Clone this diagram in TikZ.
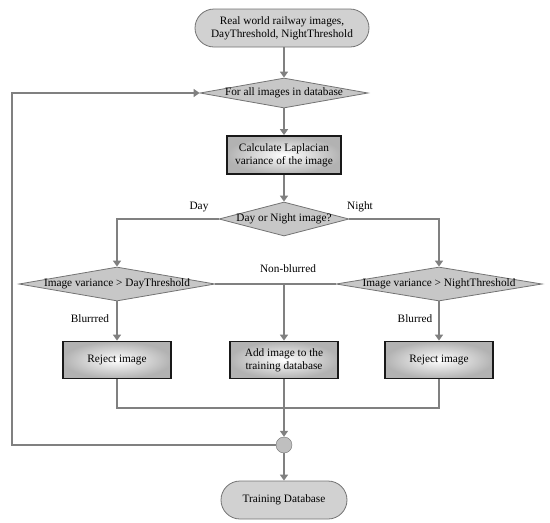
\documentclass[tikz,border=0pt]{standalone}
\usepackage{fontspec}
\setmainfont{Liberation Serif}
\usetikzlibrary{arrows.meta,positioning,shapes.geometric,shapes.misc}

\newcommand{\dtext}[1]{\makebox[0pt]{#1}}

\begin{document}
\begin{tikzpicture}[x=1pt,y=-1pt,font=\fontsize{11.3}{13}\selectfont,
  term/.style={rounded rectangle,draw=black!55,line width=.8pt,fill=black!18,align=center,minimum height=36pt,inner sep=0pt},
  cond/.style={diamond,draw=black!55,line width=.8pt,fill=black!22,inner sep=0pt},
  proc/.style={rectangle,draw=black!90,line width=1.8pt,inner color=white,outer color=black!30,align=center,minimum width=108pt,minimum height=37pt},
  flow/.style={draw=black!50,line width=1.5pt},
  arr/.style={flow,-{Triangle[width=8pt,length=6pt]}}]
\useasboundingbox (0,0) rectangle (550,523);
\node[term,minimum width=174pt,minimum height=38pt] (start) at (282,28) {Real world railway images,\\DayThreshold, NightThreshold};
\node[cond,minimum width=168pt,minimum height=30pt] (all) at (284,93) {\dtext{For all images in database}};
\node[proc,minimum width=114pt,minimum height=38pt] (lap) at (284,155) {Calculate Laplacian\\variance of the image};
\node[cond,minimum width=130pt,minimum height=34pt] (dn) at (284,219) {\dtext{Day or Night image?}};
\node[cond,minimum width=196pt,minimum height=34pt] (vday) at (117,284) {\dtext{Image variance > DayThreshold}};
\node[cond,minimum width=206pt,minimum height=34pt] (vnight) at (439,284) {\dtext{Image variance > NightThreshold}};
\node[proc] (rejday) at (117,360) {Reject image};
\node[proc] (add) at (284,360) {Add image to the\\training database};
\node[proc] (rejnight) at (439,360) {Reject image};
\node[circle,draw=black!55,fill=black!25,minimum size=16pt,inner sep=0pt] (join) at (284,445) {};
\node[term,minimum width=126pt,minimum height=38pt] (train) at (284,500) {Training Database};
\node (lday) at (199,207) {Day};
\node (lnight) at (360,207) {Night};
\node (lnb) at (288,269) {Non-blurred};
\node (lbday) at (90,319) {Blurrred};
\node (lbnight) at (415,319) {Blurred};
\coordinate (base) at (284,408);
\coordinate (back) at (12,445);
\draw[arr] (all.north |- start.south) -- (all);
\draw[arr] (all) -- (lap);
\draw[arr] (lap) -- (dn);
\draw[arr] (dn.west) -| (vday.north);
\draw[arr] (dn.east) -| (vnight.north);
\draw[flow] (vday.east) -- (vnight.west);
\draw[arr] (add.north |- vday) -- (add);
\draw[arr] (vday) -- (rejday);
\draw[arr] (vnight) -- (rejnight);
\draw[flow] (rejday.south) -- (rejday.south |- base) -- (rejnight.south |- base) -- (rejnight.south);
\draw[arr] (add) -- (join);
\draw[arr] (join.west) -- (back) |- (all.west);
\draw[arr] (join) -- (train);
\end{tikzpicture}
\end{document}
